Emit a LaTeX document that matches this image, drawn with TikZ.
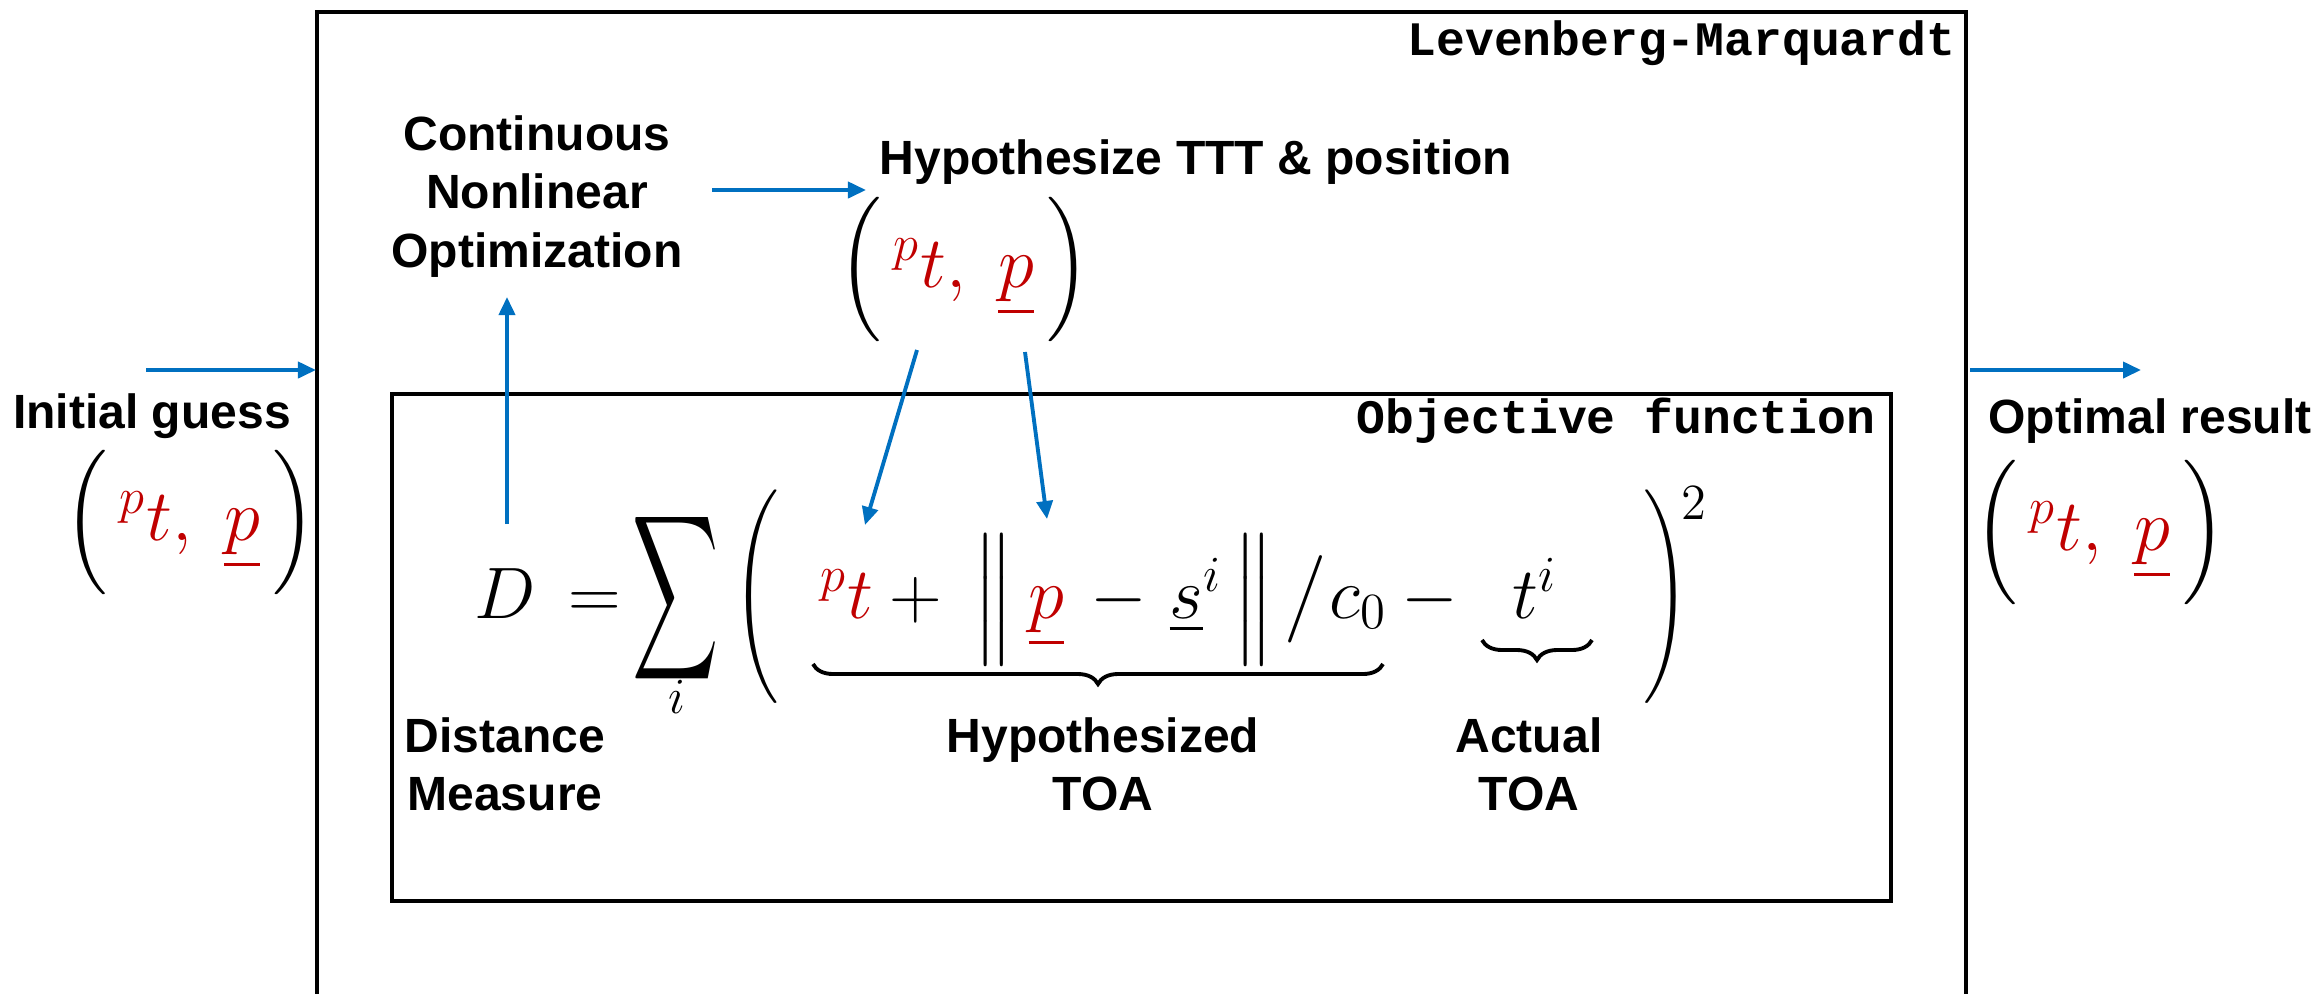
\documentclass[tikz,border=0pt]{standalone}
\usepackage[no-math]{fontspec}
\usepackage{amsmath}
\usepackage{graphicx}
\usetikzlibrary{arrows.meta,decorations.pathreplacing}
\newfontfamily\labfont{Liberation Sans}
\newfontfamily\codefont{Liberation Mono}
\definecolor{myred}{HTML}{C00000}
\definecolor{myblue}{HTML}{0070C0}
\newcommand{\rd}[1]{\textcolor{myred}{#1}}
\newcommand{\tup}{$\vcenter{\hbox{\scalebox{1}[1.1]{$\Big($}}}\,\rd{{}^{p}t,\;\underline{p}}\,\vcenter{\hbox{\scalebox{1}[1.1]{$\Big)$}}}$}
\begin{document}
\begin{tikzpicture}[x=0.01cm,y=-0.01cm,
  lab/.style={font=\labfont\bfseries\fontsize{13.66}{16.6}\selectfont, inner sep=0pt, align=center},
  code/.style={font=\codefont\bfseries\fontsize{13.66}{16}\selectfont, inner sep=0pt},
  mth/.style={font=\fontsize{20.74}{24}\selectfont, inner sep=0pt},
  frame/.style={line width=1.4pt, black},
  ubrace/.style={decorate, decoration={brace, mirror, amplitude=0.2cm}, line width=1.1pt},
  arr/.style={myblue, line width=1.1pt, -{Triangle[length=0.18cm,width=0.16cm]}}
]
\useasboundingbox (0,0) rectangle (2320,993);
% boxes
\draw[frame] (317,1010) -- (317,12) -- (1966,12) -- (1966,1010);
\draw[frame] (392,394) rectangle (1891,901);
% box titles
\node[code, anchor=base east] (lm) at (1956,55) {Levenberg-Marquardt};
\node[code, anchor=base east] (of) at (1876,433) {Objective function};
% labels
\node[lab, anchor=base] (ig) at (152,428) {Initial guess};
\node[lab, anchor=base] (opt) at (2150,433) {Optimal result};
\node[lab, anchor=base] (hyp) at (1196,174) {Hypothesize TTT \& position};
\node[lab, anchor=north] (cont) at (537,115) {Continuous\\Nonlinear\\Optimization};
\node[lab, anchor=north] (dist) at (505,717) {Distance\\Measure};
\node[lab, anchor=north] (htoa) at (1103,717) {Hypothesized\\TOA};
\node[lab, anchor=north] (atoa) at (1529,717) {Actual\\TOA};
% tuples
\node[mth] (tupI) at (190,522) {\tup};
\node[mth] (tupH) at (964,269) {\tup};
\node[mth] (tupO) at (2100,532) {\tup};
% formula
\node[mth, anchor=base west] (fD) at (474,618) {$D\hspace{0.12cm}=$};
\node[mth] (fsum) at (676,598) {\scalebox{0.82}[1.58]{$\displaystyle\sum$}};
\node[mth] (fi) at (677,697) {$\scriptstyle i$};
\node[mth] (flp) at (756,597) {\scalebox{0.85}[1.22]{$\bigg($}};
\node[mth, anchor=base west] (fhyp) at (820,618) {$\rd{{}^{p}t}+\hspace{0.15cm}\Big\|\hspace{0.15cm}\rd{\underline{p}}\hspace{0.1cm}-\hspace{0.06cm}\underline{s}^{i}\hspace{0.12cm}\Big\|\hspace{0.1cm}\big/\hspace{0.03cm}c_{0}$};
\node[mth, anchor=base] (fmin) at (1430,618) {$-$};
\node[mth, anchor=base west] (fact) at (1512,618) {$t^{i}$};
\node[mth] (frp) at (1666,597) {\scalebox{0.85}[1.22]{$\bigg)$}};
\node[mth] (fsq) at (1694,503) {$\scriptstyle 2$};
% underbraces
\draw[ubrace] (813,664) -- (1383,664);
\draw[ubrace] (1482,640) -- (1592,640);
% connector coordinates
\coordinate (igA) at (146,370);
\coordinate (igB) at (316,370);
\coordinate (orA) at (1970,370);
\coordinate (orB) at (2141,370);
\coordinate (coA) at (712,190);
\coordinate (coB) at (866,190);
\coordinate (upA) at (507,524);
\coordinate (upB) at (507,297);
\coordinate (tA) at (917,350);
\coordinate (tB) at (865,525);
\coordinate (pA) at (1025,352);
\coordinate (pB) at (1047,519);
% connectors
\draw[arr] (igA) -- (igB);
\draw[arr] (orA) -- (orB);
\draw[arr] (coA) -- (coB);
\draw[arr] (upA) -- (upB);
\draw[arr] (tA) -- (tB);
\draw[arr] (pA) -- (pB);
\end{tikzpicture}
\end{document}
